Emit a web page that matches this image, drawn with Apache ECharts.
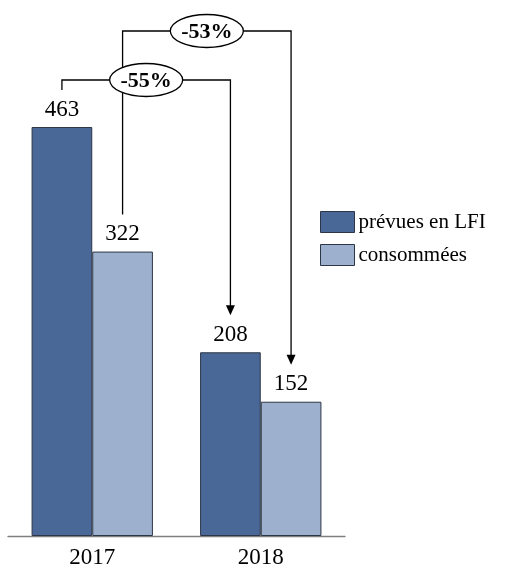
<!DOCTYPE html>
<html>
<head>
<meta charset="utf-8">
<script src="https://cdn.jsdelivr.net/npm/echarts@6/dist/echarts.min.js"></script>
<style>
  html, body { margin: 0; padding: 0; background: #fff; }
  #chart { width: 513px; height: 569px; }
</style>
</head>
<body>
<div id="chart"></div>
<script>
// Autorisations d'engagement : prévues en LFI vs consommées
const years = ['2017', '2018'];
const prevues = [463, 208];
const consommees = [322, 152];
const seriesNames = ['prévues en LFI', 'consommées'];

const FONT = '"Liberation Serif", "DejaVu Serif", serif';
const DARK = '#4a6897';
const LIGHT = '#9db0ce';
const EDGE = '#2c3646';

const chart = echarts.init(document.getElementById('chart'), null, { renderer: 'canvas' });

const labelStyle = {
  show: true,
  position: 'top',
  distance: 6,
  fontFamily: FONT,
  fontSize: 23,
  color: '#000'
};

chart.setOption({
  animation: false,
  backgroundColor: '#fff',
  grid: { left: 8, right: 168, top: 6, bottom: 31, containLabel: false },
  legend: {
    orient: 'vertical',
    left: 320,
    top: 211,
    itemWidth: 34,
    itemHeight: 21,
    itemGap: 11,
    padding: 0,
    selectedMode: false,
    textStyle: { fontFamily: FONT, fontSize: 21, color: '#000', padding: [0, 0, 0, -1] },
    data: seriesNames.map((n, i) => ({
      name: n,
      icon: 'rect',
      itemStyle: { color: i ? LIGHT : DARK, borderColor: EDGE, borderWidth: 1 }
    }))
  },
  xAxis: {
    type: 'category',
    data: years,
    axisLine: { lineStyle: { color: '#7f7f7f', width: 1.3 } },
    axisTick: { show: false },
    axisLabel: { fontFamily: FONT, fontSize: 23, color: '#000', margin: 10 }
  },
  yAxis: {
    type: 'value',
    min: 0,
    max: 600,
    show: false,
    splitLine: { show: false }
  },
  series: [
    {
      name: seriesNames[0],
      type: 'bar',
      data: prevues,
      barGap: '0%',
      barCategoryGap: '28%',
      itemStyle: { color: DARK, borderColor: EDGE, borderWidth: 1 },
      label: labelStyle
    },
    {
      name: seriesNames[1],
      type: 'bar',
      data: consommees,
      itemStyle: { color: LIGHT, borderColor: EDGE, borderWidth: 1 },
      label: labelStyle
    }
  ]
});

// Bar geometry as laid out by ECharts
function barLayout(seriesIndex, dataIndex) {
  const s = chart.getModel().getSeriesByIndex(seriesIndex);
  const l = s.getData().getItemLayout(dataIndex);
  const top = Math.min(l.y, l.y + l.height);
  return { cx: l.x + l.width / 2, top: top };
}

// Bracket arrow between the 2017 and 2018 bars of one series, with the change in an oval
function bracket(seriesIndex, values, levelY) {
  const a = barLayout(seriesIndex, 0);
  const b = barLayout(seriesIndex, 1);
  const gapAbove = 37;
  const pct = Math.round((values[1] - values[0]) / values[0] * 100);
  const y0 = a.top - gapAbove;
  const y1 = b.top - gapAbove;
  const mid = (a.cx + b.cx) / 2;
  const headLen = 10, headHalf = 4.5;
  return [
    {
      type: 'polyline',
      shape: { points: [[a.cx, y0], [a.cx, levelY], [b.cx, levelY], [b.cx, y1 - headLen + 1]] },
      style: { stroke: '#000', lineWidth: 1.3, fill: null }
    },
    {
      type: 'polygon',
      shape: { points: [[b.cx - headHalf, y1 - headLen], [b.cx + headHalf, y1 - headLen], [b.cx, y1]] },
      style: { fill: '#000' }
    },
    {
      type: 'ellipse',
      shape: { cx: mid, cy: levelY, rx: 36.5, ry: 16.5 },
      style: { fill: '#fff', stroke: '#000', lineWidth: 1.3 }
    },
    {
      type: 'text',
      x: mid,
      y: levelY + 1,
      style: {
        text: pct + '%',
        fontFamily: FONT,
        fontSize: 22,
        fontWeight: 'bold',
        fill: '#000',
        align: 'center',
        verticalAlign: 'middle'
      }
    }
  ];
}

const topBar = barLayout(0, 0).top;
chart.setOption({
  graphic: [].concat(
    bracket(1, consommees, topBar - 96),
    bracket(0, prevues, topBar - 47)
  )
});
</script>
</body>
</html>
